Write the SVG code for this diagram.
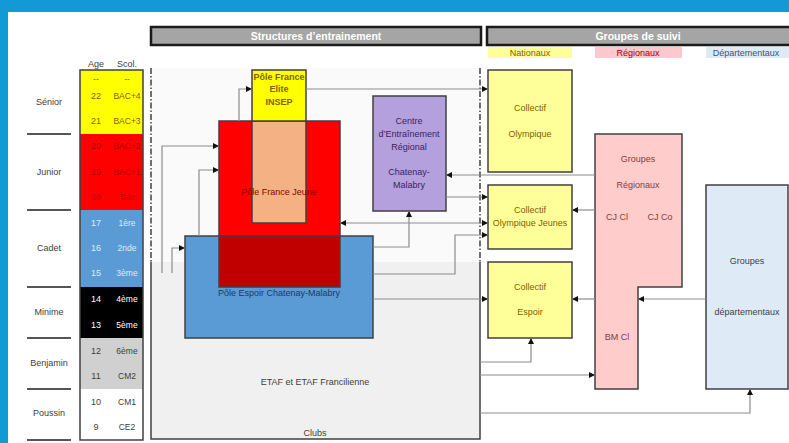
<svg xmlns="http://www.w3.org/2000/svg" width="789" height="443" viewBox="0 0 789 443">
<defs>
<marker id="ah" viewBox="0 0 6 6" refX="6" refY="3" markerWidth="6" markerHeight="6" orient="auto" markerUnits="userSpaceOnUse">
<path d="M0,0 L6,3 L0,6 z" fill="#111"/>
</marker>
<style>
text{font-family:"Liberation Sans",Arial,sans-serif;font-size:9px;text-anchor:middle}
.hdr{font-size:10.5px;font-weight:bold;fill:#fff}
.cat{fill:#404040}
.sc{font-size:8.5px}
.box{stroke:#404040;stroke-width:1.5}
.con{fill:none;stroke:#8c8c8c;stroke-width:1.2;marker-end:url(#ah)}
.dd{stroke:#404040;stroke-width:1.5;stroke-dasharray:6 2 1.5 2;fill:none}
.sep{stroke:#555;stroke-width:2}
.y{fill:#7f6000}.r{fill:#b00000}.b{fill:#deebf7}.w{fill:#fff}.g{fill:#404040}
</style>
</defs>
<rect x="0" y="0" width="789" height="443" fill="#fff"/>
<rect x="0" y="0" width="789" height="12" fill="#129ad6"/>
<rect x="0" y="0" width="8" height="443" fill="#129ad6"/>

<!-- Age table -->
<g id="age-table">
<text x="96" y="67" class="g">Age</text>
<text x="127" y="67" class="g">Scol.</text>
<rect x="80" y="70" width="63" height="64" fill="#ffff00"/>
<rect x="80" y="134" width="63" height="76" fill="#ff0000"/>
<rect x="80" y="210" width="63" height="77" fill="#5b9bd5"/>
<rect x="80" y="287" width="63" height="51" fill="#000"/>
<rect x="80" y="338" width="63" height="51" fill="#d0d0d0"/>
<rect x="80" y="389" width="63" height="51" fill="#fff"/>
<rect x="80" y="70" width="63" height="370" fill="none" class="box"/>
<text x="96" y="82" class="y">--</text><text x="127" y="82" class="y sc">--</text>
<text x="96" y="99" class="y">22</text><text x="127" y="99" class="y sc">BAC+4</text>
<text x="96" y="124" class="y">21</text><text x="127" y="124" class="y sc">BAC+3</text>
<text x="96" y="149" class="r">20</text><text x="127" y="149" class="r sc">BAC+2</text>
<text x="96" y="175" class="r">19</text><text x="127" y="175" class="r sc">BAC+1</text>
<text x="96" y="200" class="r">18</text><text x="127" y="200" class="r sc">Tale</text>
<text x="96" y="226" class="b">17</text><text x="127" y="226" class="b sc">1ère</text>
<text x="96" y="251" class="b">16</text><text x="127" y="251" class="b sc">2nde</text>
<text x="96" y="276" class="b">15</text><text x="127" y="276" class="b sc">3ème</text>
<text x="96" y="302" class="w">14</text><text x="127" y="302" class="w sc">4ème</text>
<text x="96" y="328" class="w">13</text><text x="127" y="328" class="w sc">5ème</text>
<text x="96" y="354" class="g">12</text><text x="127" y="354" class="g sc">6ème</text>
<text x="96" y="379" class="g">11</text><text x="127" y="379" class="g sc">CM2</text>
<text x="96" y="405" class="g">10</text><text x="127" y="405" class="g sc">CM1</text>
<text x="96" y="430" class="g">9</text><text x="127" y="430" class="g sc">CE2</text>
<text x="49" y="105" class="cat">Sénior</text>
<text x="49" y="175" class="cat">Junior</text>
<text x="49" y="251" class="cat">Cadet</text>
<text x="49" y="315" class="cat">Minime</text>
<text x="49" y="366" class="cat">Benjamin</text>
<text x="49" y="416" class="cat">Poussin</text>
<path class="sep" d="M27,134H71M27,210H71M27,287H71M27,338H71M27,389H71M27,440H71"/>
</g>

<!-- Headers -->
<g id="hdr-structures">
<rect x="151" y="27" width="330" height="18" fill="#a5a5a5" stroke="#1a1a1a" stroke-width="2.5"/>
<text x="316" y="40" class="hdr">Structures d’entrainement</text>
</g>
<g id="hdr-groupes">
<rect x="487" y="27" width="305" height="18" fill="#a5a5a5" stroke="#1a1a1a" stroke-width="2.5"/>
<text x="638" y="40" class="hdr">Groupes de suivi</text>
<rect x="488" y="47" width="84" height="11" fill="#ffff99"/>
<text x="530" y="55.5" fill="#7f6000">Nationaux</text>
<rect x="595" y="47" width="87" height="11" fill="#ffc7ce"/>
<text x="638" y="55.5" fill="#9c0006">Régionaux</text>
<rect x="706" y="47" width="83" height="11" fill="#deebf7"/>
<text x="746" y="55.5" fill="#44546a">Départementaux</text>
</g>

<!-- Structures area -->
<g id="clubs">
<rect x="151" y="68" width="329" height="194" fill="#fafafa"/>
<rect x="151" y="262" width="329" height="177" fill="#f0f0f0"/>
<path class="dd" d="M151,68V262M480,68V262"/>
<path d="M151,262V439H480V262" fill="none" stroke="#404040" stroke-width="1.5"/>
<text x="315" y="385" class="g">ETAF et ETAF Francilienne</text>
<text x="315" y="436" class="g">Clubs</text>
</g>

<g id="pole-france-jeune">
<rect x="219" y="121" width="121" height="166" fill="#ff0000" class="box"/>
<rect x="252" y="121" width="54" height="102" fill="#f4b183" class="box"/>
<text x="279" y="195" fill="#8b0000">Pôle France Jeune</text>
</g>
<g id="pole-france-elite">
<rect x="252" y="70" width="54" height="51" fill="#ffff00" class="box"/>
<text x="279" y="80" fill="#7f6000" font-weight="bold" font-size="8">Pôle France</text>
<text x="279" y="92" fill="#7f6000" font-weight="bold" font-size="8">Elite</text>
<text x="279" y="105" fill="#7f6000" font-weight="bold" font-size="8">INSEP</text>
</g>
<g id="pole-espoir">
<rect x="185" y="236" width="188" height="102" fill="#5b9bd5" class="box"/>
<rect x="219" y="236" width="121" height="51" fill="#c00000" stroke="#404040" stroke-width="1.5"/>
<text x="279" y="296" fill="#203864">Pôle Espoir Chatenay-Malabry</text>
</g>
<g id="cer">
<rect x="373" y="96" width="73" height="115" fill="#b4a0dc" class="box"/>
<text x="409" y="124" fill="#3f2060">Centre</text>
<text x="409" y="137" fill="#3f2060">d’Entraînement</text>
<text x="409" y="150" fill="#3f2060">Régional</text>
<text x="409" y="175" fill="#3f2060">Chatenay-</text>
<text x="409" y="188" fill="#3f2060">Malabry</text>
</g>

<!-- Groupes de suivi -->
<g id="collectif-olympique">
<rect x="488" y="70" width="84" height="102" fill="#ffff99" class="box"/>
<text x="530" y="111" fill="#7f6000">Collectif</text>
<text x="530" y="137" fill="#7f6000">Olympique</text>
</g>
<g id="collectif-oj">
<rect x="488" y="185" width="84" height="64" fill="#ffff99" class="box"/>
<text x="530" y="213" fill="#7f6000">Collectif</text>
<text x="530" y="226" fill="#7f6000" font-size="8.5">Olympique Jeunes</text>
</g>
<g id="collectif-espoir">
<rect x="488" y="262" width="84" height="76" fill="#ffff99" class="box"/>
<text x="530" y="290" fill="#7f6000">Collectif</text>
<text x="530" y="315" fill="#7f6000">Espoir</text>
</g>
<g id="groupes-regionaux">
<polygon points="595,134 682,134 682,287 638,287 638,389 595,389" fill="#ffcccc" class="box"/>
<text x="638" y="162" fill="#843c3c">Groupes</text>
<text x="638" y="188" fill="#843c3c">Régionaux</text>
<text x="617" y="220" fill="#843c3c">CJ Cl</text>
<text x="660" y="220" fill="#843c3c">CJ Co</text>
<text x="617" y="340" fill="#843c3c">BM Cl</text>
</g>
<g id="groupes-departementaux">
<rect x="706" y="185" width="82" height="204" fill="#deebf7" class="box"/>
<text x="747" y="264" fill="#404040">Groupes</text>
<text x="747" y="315" fill="#404040">départementaux</text>
</g>

<!-- Connectors -->
<g id="connectors">
<path class="con" d="M162,273V146H219"/>
<path class="con" d="M172,273V248H185"/>
<path class="con" d="M199,236V170H219"/>
<path class="con" d="M239,121V89H252"/>
<path class="con" d="M306,89H488"/>
<path class="con" d="M595,175H446"/>
<path class="con" d="M446,197H488"/>
<path class="con" d="M414,223H488"/>
<path class="con" d="M414,223H340"/>
<path class="con" d="M373,247H409V211"/>
<path class="con" d="M373,274H455V235H488"/>
<path class="con" d="M373,299H488"/>
<path class="con" d="M595,210H572"/>
<path class="con" d="M595,299H572"/>
<path class="con" d="M706,299H638"/>
<path class="con" d="M480,362H531V338"/>
<path class="con" d="M480,375H595"/>
<path class="con" d="M480,413H750V389"/>
</g>
</svg>
